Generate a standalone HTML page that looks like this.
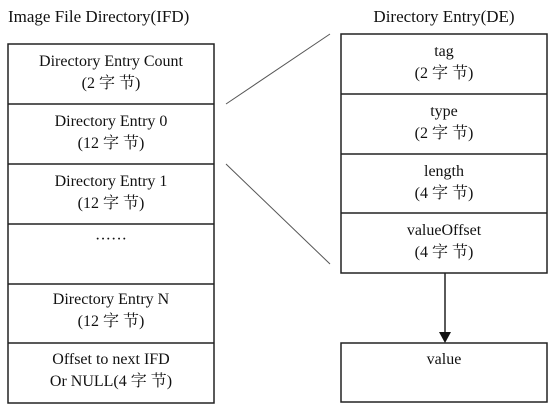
<!DOCTYPE html>
<html><head><meta charset="utf-8"><style>
body{margin:0;background:#fff}
</style></head><body>
<svg width="558" height="411" xmlns="http://www.w3.org/2000/svg" style="display:block">
<g font-family="Liberation Serif, Noto Serif CJK SC, serif" font-size="16" fill="#111" text-anchor="middle">
<text x="8" y="22" text-anchor="start" font-size="17">Image File Directory(IFD)</text>
<text x="444" y="22" font-size="17">Directory Entry(DE)</text>
<g fill="none" stroke="#222" stroke-width="1.5">
<rect x="8" y="44" width="206" height="359"/>
<line x1="8" y1="104" x2="214" y2="104"/>
<line x1="8" y1="164" x2="214" y2="164"/>
<line x1="8" y1="224" x2="214" y2="224"/>
<line x1="8" y1="284" x2="214" y2="284"/>
<line x1="8" y1="343" x2="214" y2="343"/>
<rect x="341" y="34" width="206" height="239"/>
<line x1="341" y1="94" x2="547" y2="94"/>
<line x1="341" y1="154" x2="547" y2="154"/>
<line x1="341" y1="213" x2="547" y2="213"/>
<rect x="341" y="343" width="206" height="59"/>
<line x1="445" y1="273" x2="445" y2="332"/>
</g>
<polygon points="439,332 451,332 445,343" fill="#111"/>
<g stroke="#555" stroke-width="1">
<line x1="226" y1="104" x2="330" y2="34"/>
<line x1="226" y1="164" x2="330" y2="264"/>
</g>
<text x="111" y="66">Directory Entry Count</text><text x="111" y="88">(2 字 节)</text>
<text x="111" y="126">Directory Entry 0</text><text x="111" y="148">(12 字 节)</text>
<text x="111" y="186">Directory Entry 1</text><text x="111" y="208">(12 字 节)</text>
<text x="111" y="244">······</text>
<text x="111" y="304">Directory Entry N</text><text x="111" y="326">(12 字 节)</text>
<text x="111" y="364">Offset to next IFD</text><text x="111" y="386">Or NULL(4 字 节)</text>
<text x="444" y="56">tag</text><text x="444" y="78">(2 字 节)</text>
<text x="444" y="116">type</text><text x="444" y="138">(2 字 节)</text>
<text x="444" y="176">length</text><text x="444" y="198">(4 字 节)</text>
<text x="444" y="235">valueOffset</text><text x="444" y="257">(4 字 节)</text>
<text x="444" y="364">value</text>
</g>
</svg>
</body></html>
